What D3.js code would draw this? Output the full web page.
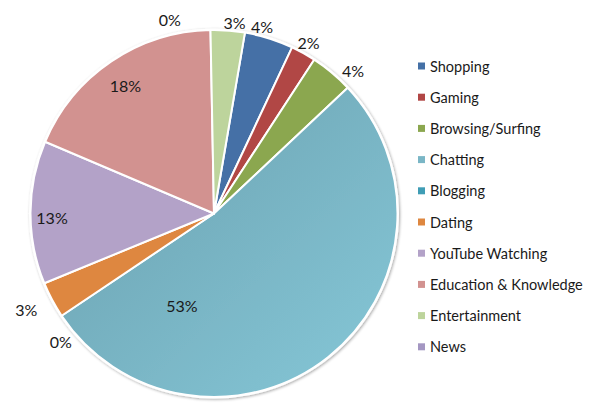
<!DOCTYPE html>
<html>
<head>
<meta charset="utf-8">
<script src="https://cdn.jsdelivr.net/npm/d3@7"></script>
<style>
  html, body { margin: 0; padding: 0; background: #fff; }
  svg { display: block; }
  text { font-family: Lato, "Open Sans", sans-serif; fill: #1a1a1a; }
</style>
</head>
<body>
<svg id="chart" width="592" height="403"></svg>
<script>
// Share of time spent per online activity (percent)
const categories = ["Shopping", "Gaming", "Browsing/Surfing", "Chatting", "Blogging",
  "Dating", "YouTube Watching", "Education & Knowledge", "Entertainment", "News"];
const shares = [4.3, 2.2, 3.8, 52.6, 0, 3.2, 12.6, 18.3, 3.0, 0];
const colors = ["#4470A6", "#B14645", "#8BA74F", "#7AB6C6", "#3F9DB5",
  "#DE8740", "#B3A2C8", "#D29290", "#BDD49C", "#A497C2"];

const svg = d3.select("#chart");
const cx = 214, cy = 213.5, R = 183.5;
const startDeg = 9.7;

const defs = svg.append("defs");
const grad = defs.append("linearGradient").attr("id", "chatGrad")
  .attr("x1", "0%").attr("y1", "0%").attr("x2", "100%").attr("y2", "100%");
grad.append("stop").attr("offset", "0%").attr("stop-color", "#6A9FAE");
grad.append("stop").attr("offset", "100%").attr("stop-color", "#86C8D8");
const shadow = defs.append("filter").attr("id", "shadow")
  .attr("x", "-10%").attr("y", "-10%").attr("width", "120%").attr("height", "120%");
shadow.append("feGaussianBlur").attr("in", "SourceAlpha").attr("stdDeviation", 1.6);
shadow.append("feOffset").attr("dx", 0.8).attr("dy", 1.2).attr("result", "b");
shadow.append("feComponentTransfer").append("feFuncA").attr("type", "linear").attr("slope", 0.35);
const merge = shadow.append("feMerge");
merge.append("feMergeNode");
merge.append("feMergeNode").attr("in", "SourceGraphic");

const data = categories.map((c, i) => ({ name: c, value: shares[i], color: colors[i] }));
const total = d3.sum(shares);

const pie = d3.pie().value(d => d.value).sort(null)
  .startAngle(startDeg * Math.PI / 180)
  .endAngle(startDeg * Math.PI / 180 + 2 * Math.PI);
const arcs = pie(data);
const arc = d3.arc().innerRadius(0).outerRadius(R);

const g = svg.append("g").attr("transform", `translate(${cx},${cy})`);
const pieG = g.append("g").attr("filter", "url(#shadow)");
pieG.append("circle").attr("r", R + 1.5).attr("fill", "#fff");
pieG.selectAll("path.slice").data(arcs.filter(a => a.data.value > 0)).join("path")
  .attr("class", "slice")
  .attr("d", arc)
  .attr("fill", d => d.data.name === "Chatting" ? "url(#chatGrad)" : d.data.color)
  .attr("stroke", "#fff").attr("stroke-width", 2).attr("stroke-linejoin", "round");

// Data label placement: angle shift (deg) from slice middle, radius
const labelLayout = {
  "Shopping": { da: -3.3, r: R + 2, out: true },
  "Gaming": { da: -0.7, r: R + 4, out: true },
  "Browsing/Surfing": { da: 3.7, r: R + 7, out: true },
  "Chatting": { da: 57.7, r: R * 0.532, out: false },
  "Blogging": { da: -6.5, r: R + 6.5, out: true },
  "Dating": { da: 0.6, r: R + 17, out: true },
  "YouTube Watching": { da: -1.9, r: R * 0.883, out: false },
  "Education & Knowledge": { da: -0.6, r: R * 0.85, out: false },
  "Entertainment": { da: 1.7, r: R + 1.3, out: true },
  "News": { da: -22.3, r: R + 8.7, out: true }
};

const fmt = v => Math.round(v / total * 100) + "%";
g.selectAll("text.lbl").data(arcs).join("text")
  .attr("class", "lbl")
  .attr("font-size", 16)
  .attr("dominant-baseline", "central")
  .attr("text-anchor", "middle")
  .each(function (d) {
    const L = labelLayout[d.data.name];
    const a = (d.startAngle + d.endAngle) / 2 + L.da * Math.PI / 180;
    const s = Math.sin(a), c = -Math.cos(a);
    let x = L.r * s, y = L.r * c;
    if (L.out) { x += s * 11; y += c * 7; }
    d3.select(this).attr("x", x).attr("y", y).text(fmt(d.data.value));
  });

// Legend
const legend = svg.append("g").attr("transform", "translate(418,66)");
const rowH = 31.2;
const item = legend.selectAll("g").data(data).join("g")
  .attr("transform", (d, i) => `translate(0,${i * rowH})`);
item.append("rect").attr("x", 0).attr("y", -3.5).attr("width", 7).attr("height", 7)
  .attr("fill", d => d.color);
item.append("text").attr("x", 12).attr("y", 0).attr("dominant-baseline", "central")
  .attr("font-size", 14.5).text(d => d.name);
</script>
</body>
</html>
